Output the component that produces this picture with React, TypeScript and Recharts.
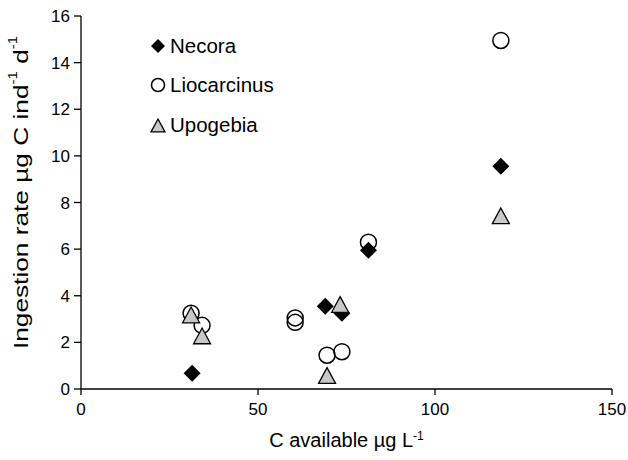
import { ScatterChart, Scatter, XAxis, YAxis, Legend } from "recharts";

// C available (µg L-1) and ingestion rate (µg C ind-1 d-1) per species
const necoraX = [31.4, 69.0, 73.7, 81.2, 118.6];
const necoraY = [0.68, 3.55, 3.25, 5.95, 9.55];

const liocarcinusX = [31.1, 34.2, 60.5, 60.5, 69.5, 73.7, 81.2, 118.6];
const liocarcinusY = [3.25, 2.73, 3.05, 2.86, 1.45, 1.6, 6.3, 14.95];

const upogebiaX = [31.1, 34.2, 69.5, 73.2, 118.6];
const upogebiaY = [3.15, 2.25, 0.55, 3.6, 7.4];

const xTicks = [0, 50, 100, 150];
const yTicks = [0, 2, 4, 6, 8, 10, 12, 14, 16];

const toPoints = (xs: number[], ys: number[]) => xs.map((x, i) => ({ x, y: ys[i] }));

const necora = toPoints(necoraX, necoraY);
const liocarcinus = toPoints(liocarcinusX, liocarcinusY);
const upogebia = toPoints(upogebiaX, upogebiaY);

const FONT = "'Liberation Sans', Arial, Helvetica, sans-serif";
const TRI_FILL = "#c8c8c8";

const Diamond = ({ cx, cy, r = 8.5 }: any) => (
  <path d={`M${cx},${cy - r}L${cx + r},${cy}L${cx},${cy + r}L${cx - r},${cy}Z`} fill="#000" />
);

const Ring = ({ cx, cy, r = 8 }: any) => (
  <circle cx={cx} cy={cy} r={r} fill="none" stroke="#000" strokeWidth={1.5} />
);

const Triangle = ({ cx, cy, s = 8.5 }: any) => (
  <path
    d={`M${cx},${cy - s}L${cx + s},${cy + s * 0.85}L${cx - s},${cy + s * 0.85}Z`}
    fill={TRI_FILL}
    stroke="#000"
    strokeWidth={1.3}
    strokeLinejoin="miter"
  />
);

const legendItems = [
  { name: "Necora", icon: <Diamond cx={9} cy={9} r={7} /> },
  { name: "Liocarcinus", icon: <Ring cx={9} cy={9} r={6.5} /> },
  { name: "Upogebia", icon: <Triangle cx={9} cy={10} s={7} /> },
];

const LegendBox = () => (
  <div style={{ fontFamily: FONT, fontSize: 20.5, color: "#000" }}>
    {legendItems.map((it) => (
      <div key={it.name} style={{ display: "flex", alignItems: "center", height: 39.5 }}>
        <svg width={18} height={18} style={{ marginRight: 3 }}>
          {it.icon}
        </svg>
        <span>{it.name}</span>
      </div>
    ))}
  </div>
);

// the original title runs longer along the axis than plain text would
const YTitle = ({ viewBox }: any) => {
  const cy = viewBox.y + viewBox.height / 2 - 10;
  const x = 20;
  return (
    <text
      transform={`translate(${x}, ${cy}) rotate(-90) scale(1.25, 1)`}
      textAnchor="middle"
      dominantBaseline="central"
      fontFamily={FONT}
      fontSize={21}
      fill="#000"
    >
      Ingestion rate µg C ind<tspan fontSize={12} dy={-7}>-1</tspan>
      <tspan dy={7}> d</tspan>
      <tspan fontSize={12} dy={-7}>-1</tspan>
    </text>
  );
};

const XTitle = ({ viewBox }: any) => {
  const cx = viewBox.x + viewBox.width / 2;
  return (
    <text x={cx} y={447} textAnchor="middle" fontFamily={FONT} fontSize={20} fill="#000">
      C available µg L<tspan fontSize={12} dy={-7}>-1</tspan>
    </text>
  );
};

const tickStyle = { fill: "#000", fontSize: 17, fontFamily: FONT };

export default function App() {
  return (
    <div style={{ position: "absolute", left: 0, top: 0, background: "#fff" }}>
      <ScatterChart width={628} height={460} margin={{ top: 16, right: 16, bottom: 11, left: 0 }}>
        <XAxis
          type="number"
          dataKey="x"
          domain={[0, 150]}
          ticks={xTicks}
          height={60}
          tickSize={6}
          tickMargin={8}
          axisLine={{ stroke: "#000", strokeWidth: 1.3 }}
          tickLine={{ stroke: "#000", strokeWidth: 1.3 }}
          tick={tickStyle}
          label={<XTitle />}
        />
        <YAxis
          type="number"
          dataKey="y"
          domain={[0, 16]}
          ticks={yTicks}
          width={81}
          tickSize={7}
          tickMargin={4}
          axisLine={{ stroke: "#000", strokeWidth: 1.3 }}
          tickLine={{ stroke: "#000", strokeWidth: 1.3 }}
          tick={tickStyle}
          label={<YTitle />}
        />
        <Legend
          layout="vertical"
          align="center"
          verticalAlign="middle"
          wrapperStyle={{ left: 149, top: 26, width: 180 }}
          content={<LegendBox />}
        />
        <Scatter name="Necora" data={necora} shape={<Diamond />} isAnimationActive={false} />
        <Scatter name="Liocarcinus" data={liocarcinus} shape={<Ring />} isAnimationActive={false} />
        <Scatter name="Upogebia" data={upogebia} shape={<Triangle />} isAnimationActive={false} />
      </ScatterChart>
    </div>
  );
}
